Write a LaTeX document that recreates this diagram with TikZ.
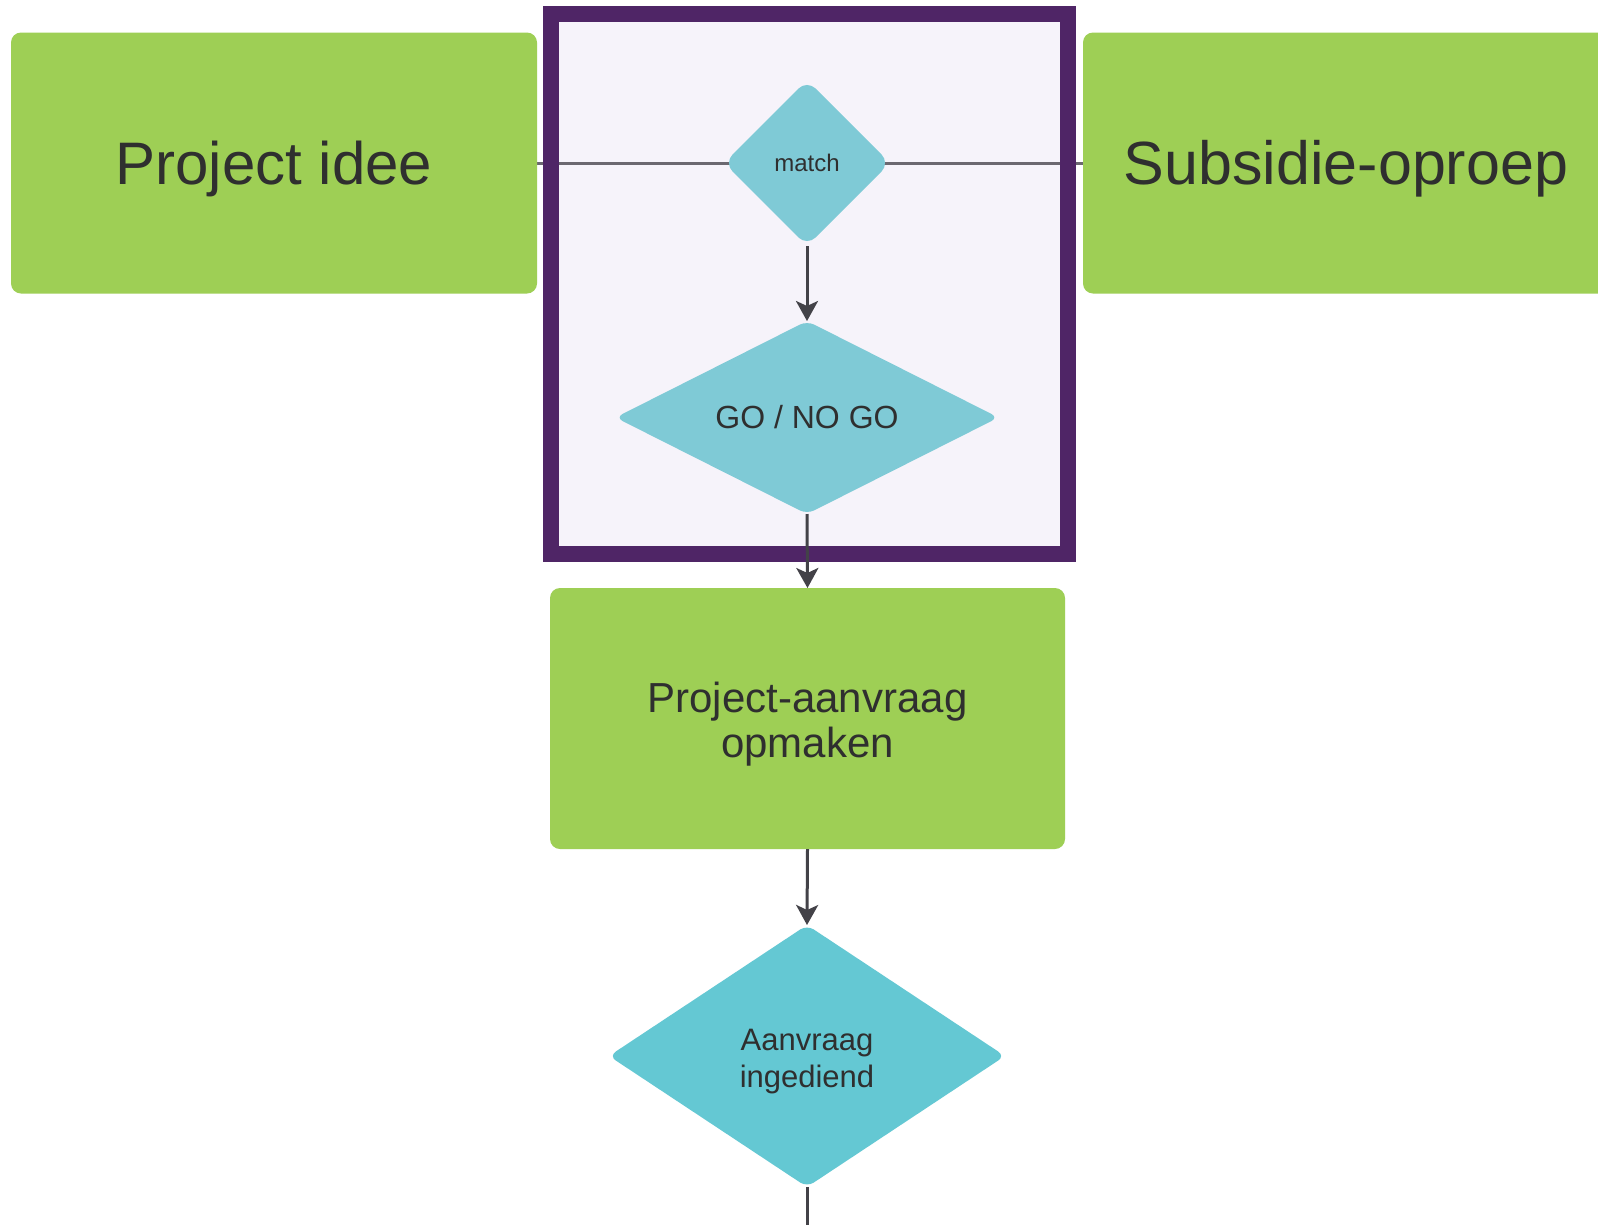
\documentclass[tikz,border=0pt]{standalone}
\usepackage{fontspec}
\setmainfont{Liberation Sans}
\usetikzlibrary{shapes.geometric,arrows.meta,backgrounds}
\definecolor{boxgreen}{HTML}{9ECF55}
\definecolor{framepurple}{HTML}{4F2566}
\definecolor{lavender}{HTML}{F6F3FA}
\definecolor{cyanA}{HTML}{7FCAD6}
\definecolor{cyanB}{HTML}{64C8D3}
\definecolor{linegray}{HTML}{6B6870}
\definecolor{arrowgray}{HTML}{434248}
\definecolor{txt}{HTML}{2F2F2F}
\begin{document}
\begin{tikzpicture}[x=1pt,y=-1pt,
  greenbox/.style={fill=boxgreen, rounded corners=10pt, inner sep=0pt, outer sep=0pt, align=center, text=txt},
  decision/.style={diamond, inner sep=0pt, outer sep=0pt, align=center, text=txt},
  conn/.style={draw=arrowgray, line width=3pt, -{Stealth[length=20pt,width=22pt,inset=5pt]}},
  plainline/.style={draw=linegray, line width=3pt},
]
\useasboundingbox (0,0) rectangle (1598,1224);
\clip (0,0) rectangle (1598,1224);

% top boxes
\node[greenbox, minimum width=526pt, minimum height=261pt, text height=43pt, text depth=0pt,
      font=\fontsize{60}{66}\selectfont] (idea) at (274,163) {Project idee};
\node[greenbox, minimum width=526pt, minimum height=261pt, text height=43pt, text depth=0pt,
      font=\fontsize{61}{66}\selectfont] (call) at (1346,163) {Subsidie-oproep};

% decisions inside the group
\node[decision, fill=cyanA, minimum width=166pt, minimum height=166pt, rounded corners=12pt,
      font=\fontsize{24}{28}\selectfont] (match) at (807,163) {match};
\node[decision, aspect=2.5, fill=cyanA, minimum width=383pt, minimum height=193pt, rounded corners=8pt,
      font=\fontsize{32}{36}\selectfont] (go) at (807,417.5) {GO / NO GO};

% background: page, group fill, connecting line
\begin{scope}[on background layer]
  \fill[white] (0,0) rectangle (1598,1224);
  \node[fill=lavender, minimum width=517pt, minimum height=540pt, inner sep=0pt, outer sep=0pt] (grp) at (809.5,284) {};
  \draw[plainline] (idea.east) -- (match.center);
  \draw[plainline] (match.center) -- (call.west);
\end{scope}

% frame border
\draw[framepurple, line width=16pt] (grp.north west) rectangle (grp.south east);

% lower nodes
\node[greenbox, minimum width=515pt, minimum height=261pt, text height=86pt, text depth=9pt,
      font=\fontsize{42}{45}\selectfont] (make) at (807.5,718.5) {Project-aanvraag\\opmaken};
\node[decision, fill=cyanB, minimum width=396pt, minimum height=262pt, rounded corners=8pt,
      text height=69pt, text depth=6.5pt, font=\fontsize{31}{37}\selectfont] (sub) at (807,1056) {Aanvraag\\ingediend};
\coordinate (out) at (807,1240);

% arrows
\draw[conn] (match.south) -- (go.north);
\draw[conn] (go.south) -- (make.north);
\draw[conn] (make.south) -- (sub.north);
\draw[plainline, draw=arrowgray] (sub.south) -- (out);
\end{tikzpicture}
\end{document}
